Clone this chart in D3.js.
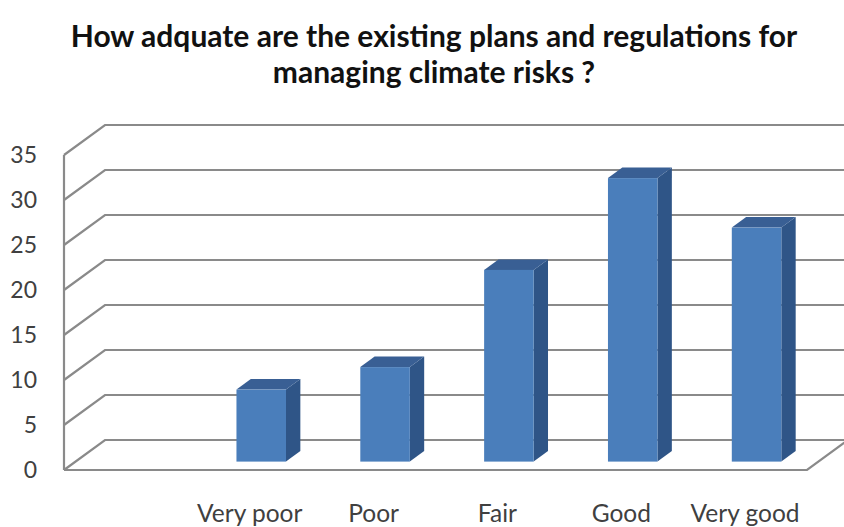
<!DOCTYPE html>
<html>
<head>
<meta charset="utf-8">
<script src="https://cdn.jsdelivr.net/npm/d3@7/dist/d3.min.js"></script>
<style>
  html, body { margin: 0; padding: 0; background: #fff; }
  svg { display: block; }
  text { font-family: Lato, "Open Sans", sans-serif; }
</style>
</head>
<body>
<svg id="chart" width="844" height="527"></svg>
<script>
// Survey responses per rating (the leading blank slot is an empty category)
const categories = ["", "Very poor", "Poor", "Fair", "Good", "Very good"];
const values = [null, 8, 10.5, 21.3, 31.5, 26];
const yTicks = [0, 5, 10, 15, 20, 25, 30, 35];
const titleLines = [
  "How adquate are the existing plans and regulations for",
  "managing climate risks ?"
];

const svg = d3.select("#chart");

// Front plane of the 3-D box
const boxLeft = 64, boxRight = 807, boxBottom = 470, boxTop = 155;
// Oblique depth offset of the back wall
const DX = 41, DY = 30;
// Depth placement of the bars (fraction of full depth)
const barFront = 0.28, barDepth = 0.35, barWidthFrac = 0.4;

const x = d3.scaleBand().domain(categories).range([boxLeft, boxRight]).padding(0);
const y = d3.scaleLinear().domain([0, 35]).range([boxBottom, boxTop]);

const proj = (px, py, d) => [px + d * DX, py - d * DY];

const gridColor = "#8a8a8a";
const grid = svg.append("g").attr("fill", "none").attr("stroke", gridColor).attr("stroke-width", 2.2);

// Back wall gridlines plus their side-wall diagonals
yTicks.forEach(t => {
  const a = proj(boxLeft, y(t), 0), b = proj(boxLeft, y(t), 1), c = proj(boxRight, y(t), 1);
  grid.append("path").attr("d", d3.line()([a, b, c]));
});
// Front vertical axis line
grid.append("line").attr("x1", boxLeft).attr("x2", boxLeft).attr("y1", y(35)).attr("y2", y(0));
// Floor front edge and right diagonal
grid.append("path").attr("d", d3.line()([proj(boxLeft, y(0), 0), proj(boxRight, y(0), 0), proj(boxRight, y(0), 1)]));
// Back wall right edge
grid.append("line")
  .attr("x1", boxRight + DX).attr("x2", boxRight + DX)
  .attr("y1", y(35) - DY).attr("y2", y(0) - DY)
  .attr("stroke-width", 1).attr("stroke", "#c8c8c8");

// Bars
const bars = svg.append("g");
const data = categories.map((c, i) => ({ c, v: values[i] })).filter(d => d.v != null);
data.forEach(d => {
  const bw = x.bandwidth() * barWidthFrac;
  const cx = x(d.c) + x.bandwidth() / 2;
  const x0 = cx - bw / 2, x1 = cx + bw / 2;
  const y0 = y(0), y1 = y(d.v);
  const f = barFront, b = barFront + barDepth;
  const g = bars.append("g");
  // right side face
  g.append("path").attr("fill", "#2f5587")
    .attr("d", d3.line()([proj(x1, y0, f), proj(x1, y1, f), proj(x1, y1, b), proj(x1, y0, b)]) + "Z");
  // top face
  g.append("path").attr("fill", "#395f94")
    .attr("d", d3.line()([proj(x0, y1, f), proj(x1, y1, f), proj(x1, y1, b), proj(x0, y1, b)]) + "Z");
  // front face
  const p0 = proj(x0, y1, f), p1 = proj(x1, y0, f);
  g.append("rect").attr("fill", "#4a7ebb")
    .attr("x", p0[0]).attr("y", p0[1])
    .attr("width", p1[0] - p0[0]).attr("height", p1[1] - p0[1]);
});

// Value axis labels
const yAxis = svg.append("g")
  .attr("transform", `translate(${boxLeft},0)`)
  .call(d3.axisLeft(y).tickValues(yTicks).tickSize(0).tickPadding(27).tickFormat(d3.format("d")));
yAxis.select(".domain").remove();
yAxis.selectAll("text").attr("font-size", 23).attr("fill", "#404040").style("font-family", "Lato, sans-serif");

// Category labels
const xAxis = svg.append("g")
  .attr("transform", `translate(0,${boxBottom})`)
  .call(d3.axisBottom(x).tickSize(0).tickPadding(35));
xAxis.select(".domain").remove();
xAxis.selectAll("text").attr("font-size", 24.5).attr("fill", "#404040").style("font-family", "Lato, sans-serif");

// Title
svg.append("g").selectAll("text").data(titleLines).join("text")
  .attr("x", 434)
  .attr("y", (d, i) => 47 + i * 36)
  .attr("text-anchor", "middle")
  .attr("font-size", 30)
  .attr("font-weight", "bold")
  .attr("fill", "#111")
  .text(d => d);
</script>
</body>
</html>
